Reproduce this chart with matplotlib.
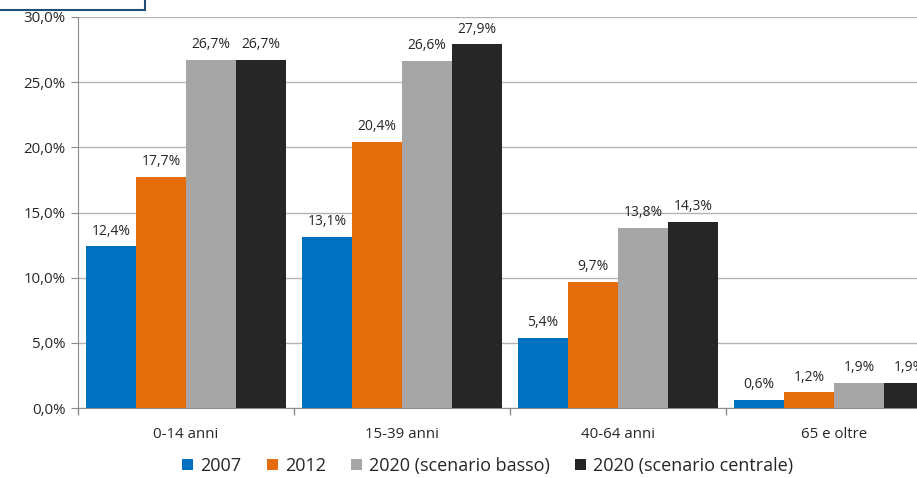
import matplotlib.pyplot as plt
from matplotlib.patches import Rectangle
from matplotlib.ticker import FuncFormatter
import numpy as np

plt.rcParams['font.family'] = ['Open Sans', 'DejaVu Sans']

# Data
categories = ["0-14 anni", "15-39 anni", "40-64 anni", "65 e oltre"]
series_names = ["2007", "2012", "2020 (scenario basso)", "2020 (scenario centrale)"]
v2007 = [12.4, 13.1, 5.4, 0.6]
v2012 = [17.7, 20.4, 9.7, 1.2]
v2020_basso = [26.7, 26.6, 13.8, 1.9]
v2020_centrale = [26.7, 27.9, 14.3, 1.9]
series_values = [v2007, v2012, v2020_basso, v2020_centrale]
colors = ['#0070C0', '#E46C0A', '#A6A6A6', '#262626']

W, H = 917, 478
fig = plt.figure(figsize=(W / 100, H / 100), dpi=100)
# plot area runs past the right edge of the picture, as in the reference
ax = fig.add_axes([78 / W, (H - 408) / H, 864 / W, 391 / H])

x = np.arange(len(categories))
bw = 0.2315
for i, (name, vals, c) in enumerate(zip(series_names, series_values, colors)):
    pos = x + (i - 1.5) * bw
    bars = ax.bar(pos, vals, width=bw, color=c, label=name, zorder=3)
    for b, v in zip(bars, vals):
        ax.text(b.get_x() + b.get_width() / 2, v + 0.6, f"{v:.1f}%".replace('.', ','),
                ha='center', va='bottom', fontsize=10, color='#262626')

ax.set_xlim(-0.5, 3.5)
ax.set_ylim(0, 30)
ax.set_yticks(np.arange(0, 31, 5))
ax.yaxis.set_major_formatter(FuncFormatter(lambda v, p: f"{v:.1f}%".replace('.', ',')))
ax.grid(axis='y', color='#B3B3B3', linewidth=1, zorder=0)

ax.set_xticks(x)
ax.set_xticklabels(categories, fontsize=10.8, color='#262626')
ax.set_xticks(np.arange(-0.5, 3.6, 1), minor=True)
ax.tick_params(axis='x', which='major', length=0, pad=14)
ax.tick_params(axis='x', which='minor', length=5, color='#8C8C8C', width=1)
ax.tick_params(axis='y', length=5, color='#8C8C8C', labelsize=10.8, labelcolor='#262626', pad=4)

for s in ['top', 'right']:
    ax.spines[s].set_visible(False)
for s in ['left', 'bottom']:
    ax.spines[s].set_color('#8C8C8C')

leg = fig.legend(loc='center', bbox_to_anchor=(488 / W, 1 - 466 / H), ncol=4,
                 frameon=False, fontsize=13, handlelength=0.6, handleheight=0.6,
                 columnspacing=1.4, handletextpad=0.4)
for t in leg.get_texts():
    t.set_color('#262626')

# fragment of a box at the top-left corner
fig.patches.append(Rectangle((-10 / W, 1 - 10 / H), 155 / W, 30 / H,
                             transform=fig.transFigure, fill=False,
                             edgecolor='#1F4E79', linewidth=1.5))

fig.savefig('out.png', dpi=100)
